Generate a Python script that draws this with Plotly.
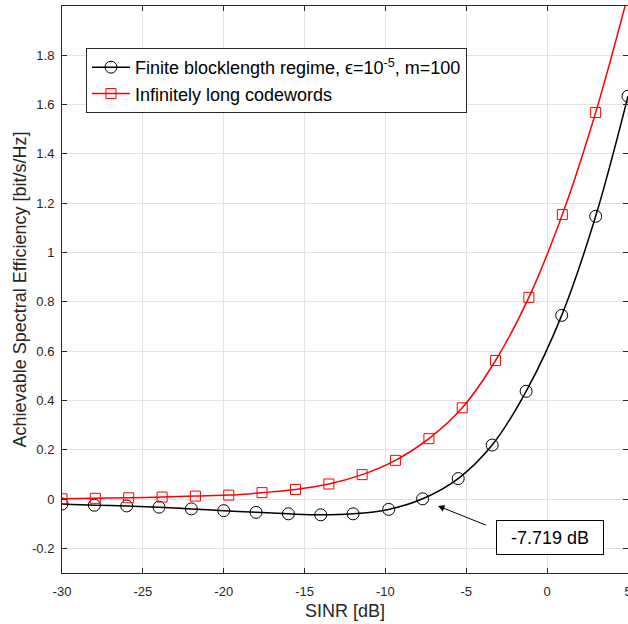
import plotly.graph_objects as go

# SINR grid (dB) and achievable spectral efficiency (bit/s/Hz)
sinr_finite = [-30, -28, -26, -24, -22, -20, -18, -16, -14, -12, -9.8, -7.7,
               -5.5, -3.4, -1.3, 0.9, 3.0, 5.0]
se_finite = [-0.020, -0.025, -0.028, -0.033, -0.040, -0.047, -0.054, -0.060,
             -0.064, -0.060, -0.042, 0.001, 0.083, 0.219, 0.437, 0.745, 1.147, 1.634]

sinr_inf = [-30, -27.94, -25.88, -23.81, -21.75, -19.69, -17.63, -15.56, -13.5,
            -11.44, -9.38, -7.31, -5.25, -3.19, -1.13, 0.94, 3.0, 5.06]
se_inf = [0.001, 0.003, 0.005, 0.008, 0.012, 0.016, 0.026, 0.039, 0.061,
          0.099, 0.157, 0.245, 0.370, 0.562, 0.818, 1.154, 1.568, 2.06]

zero_crossing_db = -7.719
x_ticks = [-30, -25, -20, -15, -10, -5, 0, 5]
x_tick_text = ["-30", "-25", "-20", "-15", "-10", "-5", "0", "5"]
y_ticks = [-0.2, 0, 0.2, 0.4, 0.6, 0.8, 1.0, 1.2, 1.4, 1.6, 1.8]
y_tick_text = ["-0.2", "0", "0.2", "0.4", "0.6", "0.8", "1", "1.2", "1.4", "1.6", "1.8"]

FONT = "Liberation Sans, Arial, Helvetica, sans-serif"
AXIS_COLOR = "#262626"
GRID_COLOR = "#e3e3e3"

fig = go.Figure()

fig.add_trace(go.Scatter(
    x=sinr_finite, y=se_finite, mode="lines+markers",
    name="Finite blocklength regime, \u03f5=10<sup>-5</sup>, m=100",
    line=dict(color="black", width=1.5, shape="spline", smoothing=1.0),
    marker=dict(symbol="circle-open", size=12, color="black", line=dict(width=1)),
))

fig.add_trace(go.Scatter(
    x=sinr_inf, y=se_inf, mode="lines+markers",
    name="Infinitely long codewords",
    line=dict(color="red", width=1.5, shape="spline", smoothing=1.0),
    marker=dict(symbol="square-open", size=10, color="red", line=dict(width=1)),
))

# arrow pointing at the zero crossing of the finite-blocklength curve
fig.add_annotation(
    x=-6.75, y=-0.028, ax=-3.7, ay=-0.108, xref="x", yref="y",
    axref="x", ayref="y", text="", showarrow=True,
    arrowhead=2, arrowsize=1.3, arrowwidth=1, arrowcolor="black",
)
fig.add_annotation(
    x=0.15, y=-0.157, xref="x", yref="y", showarrow=False,
    text=f"{zero_crossing_db:.3f} dB",
    font=dict(family=FONT, size=18, color="black"),
    bordercolor="black", borderwidth=1, borderpad=6, bgcolor="white",
    width=94, height=21,
)

axis_common = dict(
    showline=True, linecolor=AXIS_COLOR, linewidth=1, mirror="ticks",
    ticks="inside", ticklen=5, tickcolor=AXIS_COLOR, tickwidth=1,
    showgrid=True, gridcolor=GRID_COLOR, gridwidth=1, zeroline=False,
    tickfont=dict(family=FONT, size=13, color=AXIS_COLOR),
    ticklabeloverflow="allow", automargin=False,
)

fig.update_xaxes(
    range=[-30, 5], tickvals=x_ticks, ticktext=x_tick_text,
    title=dict(text="SINR [dB]", font=dict(family=FONT, size=18, color=AXIS_COLOR), standoff=6),
    ticklabelstandoff=6, **axis_common,
)
fig.update_yaxes(
    range=[-0.3, 2.0], tickvals=y_ticks, ticktext=y_tick_text,
    title=dict(text="Achievable Spectral Efficiency [bit/s/Hz]",
               font=dict(family=FONT, size=18, color=AXIS_COLOR), standoff=0),
    ticklabelstandoff=4, **axis_common,
)

fig.update_layout(
    width=628, height=624,
    margin=dict(l=62, r=0, t=6, b=51),
    paper_bgcolor="white", plot_bgcolor="white",
    font=dict(family=FONT),
    legend=dict(
        x=0.0424, y=0.926, xanchor="left", yanchor="top",
        bgcolor="white", bordercolor=AXIS_COLOR, borderwidth=1,
        font=dict(family=FONT, size=18, color="black"),
        itemwidth=38, tracegroupgap=0,
    ),
)

fig.write_html("out.html")
